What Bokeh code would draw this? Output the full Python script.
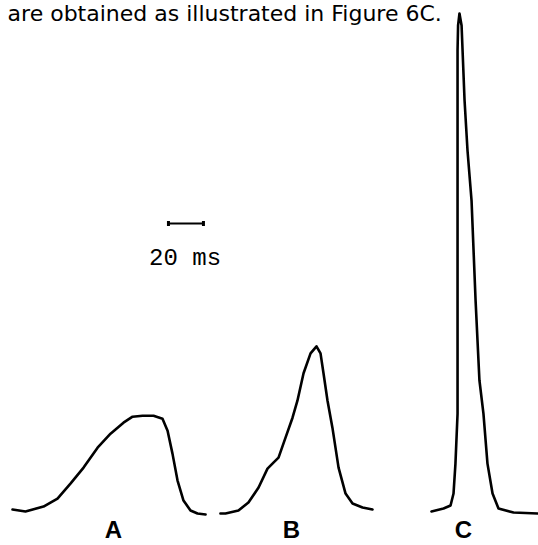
from bokeh.plotting import figure
from bokeh.models import Range1d, Label
from bokeh.embed import file_html
from bokeh.resources import INLINE

# Sweep time (ms) and amplitude (arbitrary units, C peak = 100)
a_time = [2.3, 9.7, 20.0, 28.0, 35.4, 42.9, 50.9, 58.3, 65.7, 70.9, 76.6, 82.9, 88.0,
          90.9, 93.7, 96.6, 100.0, 104.0, 108.0, 112.6]
a_amp = [0.6, 0.2, 1.2, 2.8, 5.8, 9.0, 13.0, 15.8, 18.0, 19.2, 19.4, 19.4, 18.8,
         16.4, 11.8, 6.4, 2.4, 0.4, -0.2, -0.4]

b_time = [121.1, 124.0, 131.4, 137.1, 142.9, 148.0, 151.4, 154.3, 158.3, 162.3, 165.1,
          168.6, 172.6, 176.0, 178.3, 180.0, 182.3, 185.1, 188.6, 192.6, 196.6, 202.3, 208.0]
b_amp = [-0.2, -0.2, 0.4, 2.0, 5.0, 8.8, 10.0, 11.0, 15.0, 19.0, 22.4,
         27.9, 31.9, 33.3, 31.9, 27.9, 22.4, 17.0, 9.0, 3.8, 1.8, 1.0, 0.6]

c_time = [241.7, 248.6, 252.6, 254.3, 255.4, 256.6, 256.6, 256.6, 256.6, 256.9, 257.7,
          258.9, 260.6, 262.3, 264.6, 266.9, 269.1, 271.4, 273.7, 276.6, 280.0, 288.6, 302.3]
c_amp = [0.2, 0.8, 1.4, 3.8, 9.8, 19.8, 42.5, 72.5, 92.6, 97.6, 100.0,
         97.6, 82.6, 72.5, 62.5, 42.5, 26.5, 19.8, 9.8, 3.8, 0.8, 0.0, -0.2]

curve_labels = ["A", "B", "C"]
label_time = [60.0, 161.7, 260.0]

scale_start = 91.4      # ms
scale_length = 20       # ms
scale_level = 57.9
scale_text = "20 ms"
caption = "are obtained as illustrated in Figure 6C."

p = figure(width=538, height=545, output_backend="svg", toolbar_location=None,
           x_range=Range1d(-4.571, 302.857), y_range=Range1d(-6.61, 102.6),
           min_border=0, background_fill_color="white", border_fill_color="white")
p.axis.visible = False
p.grid.visible = False
p.outline_line_color = None

for t, a in [(a_time, a_amp), (b_time, b_amp), (c_time, c_amp)]:
    p.line(t, a, line_color="black", line_width=2.6, line_join="round", line_cap="round")

# scale bar
p.segment(x0=[scale_start], y0=[scale_level], x1=[scale_start + scale_length], y1=[scale_level],
          line_color="black", line_width=2)
p.segment(x0=[scale_start, scale_start + scale_length], y0=[scale_level - 0.5, scale_level - 0.5],
          x1=[scale_start, scale_start + scale_length], y1=[scale_level + 0.5, scale_level + 0.5],
          line_color="black", line_width=3)
p.add_layout(Label(x=scale_start + scale_length / 2 - 0.5, y=50.9, text=scale_text,
                   text_font="Liberation Mono", text_font_size="24px",
                   text_align="center", text_baseline="alphabetic", text_color="black"))

for lab, t in zip(curve_labels, label_time):
    p.add_layout(Label(x=t, y=-3.4, text=lab, text_font="Liberation Sans",
                       text_font_size="24px", text_font_style="bold",
                       text_align="center", text_baseline="alphabetic", text_color="black"))

p.add_layout(Label(x=-0.5, y=100.0, text=caption, text_font="DejaVu Sans",
                   text_font_size="22px", text_align="left",
                   text_baseline="alphabetic", text_color="black"))

open("out.html", "w").write(file_html(p, INLINE))
